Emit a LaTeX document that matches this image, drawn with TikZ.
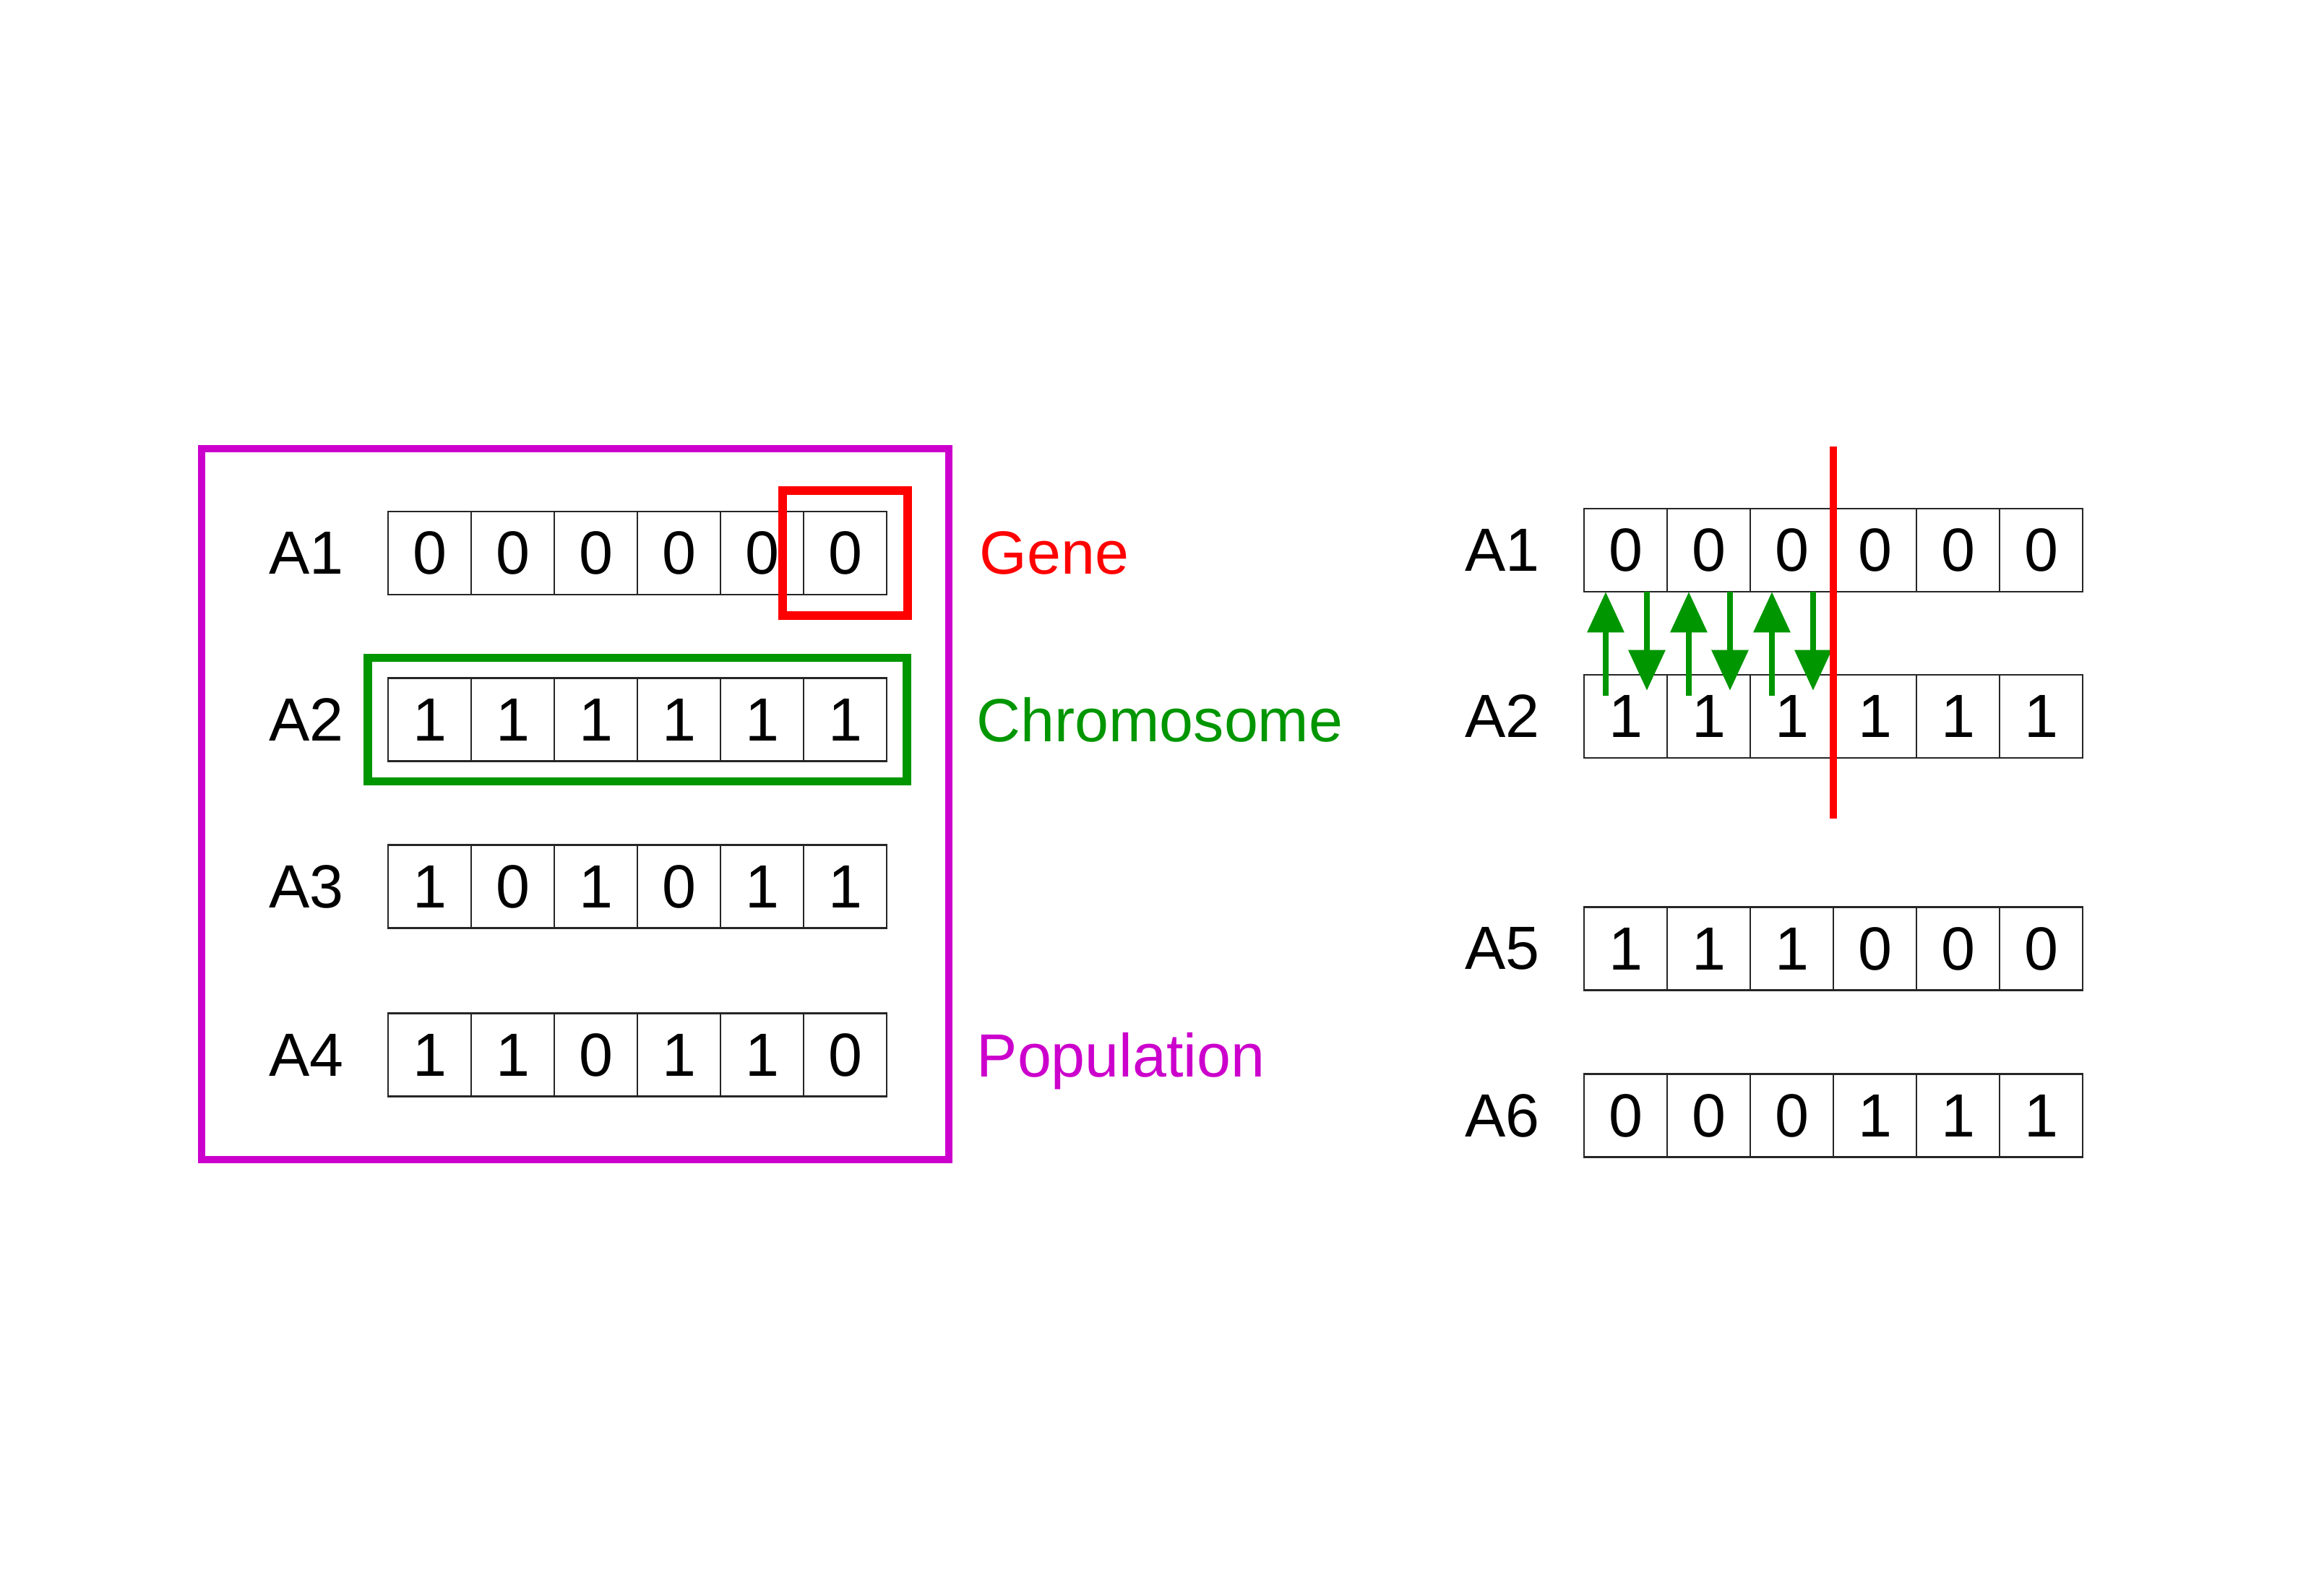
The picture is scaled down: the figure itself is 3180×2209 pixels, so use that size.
\documentclass[tikz,border=0pt]{standalone}
\usepackage{fontspec}
\setmainfont{Liberation Sans}
\usetikzlibrary{arrows.meta,calc,fit}
\definecolor{gred}{RGB}{255,0,0}
\definecolor{ggreen}{RGB}{0,150,0}
\definecolor{gmag}{RGB}{204,0,204}
\tikzset{
  txt/.style={font=\fontsize{24}{28}\selectfont},
  cell/.style={txt,draw=black!85,line width=0.8pt,minimum width=1.15cm,minimum height=1.15cm,inner sep=0pt,outer sep=0pt},
  rowlab/.style={txt,inner sep=0pt,anchor=east},
  genebox/.style={draw=gred,line width=3.3pt,inner sep=0.29cm},
  chrombox/.style={draw=ggreen,line width=3.3pt,inner sep=0.28cm},
  popbox/.style={draw=gmag,line width=3pt,inner sep=0pt},
  garrow/.style={draw=ggreen,line width=2.5pt,-{Triangle[length=16pt,width=14pt]}},
  cutline/.style={draw=gred,line width=2.7pt},
}
\newcommand\chromrow[5]{%
  \node[rowlab] (#1-l) at (#3-61,#4) {#2};
  \foreach \b [count=\i] in {#5} {
    \node[cell] (#1-\i) at ({#3+57.5+115*(\i-1)},#4) {\b};
  }%
}
\begin{document}
\begin{tikzpicture}[x=0.01cm,y=-0.01cm]
\useasboundingbox (0,0) rectangle (3180,2209);
% left: population
\chromrow{la1}{A1}{537}{765.5}{0,0,0,0,0,0}
\chromrow{la2}{A2}{537}{996}{1,1,1,1,1,1}
\chromrow{la3}{A3}{537}{1227}{1,0,1,0,1,1}
\chromrow{la4}{A4}{537}{1460}{1,1,0,1,1,0}
\node[genebox,fit=(la1-6)] (gene) {};
\node[chrombox,fit=(la2-1)(la2-6)] (chrom) {};
\node[popbox,fit={(279,621) (1313,1605)}] (pop) {};
\node[txt,text=gred,anchor=base west,inner sep=0pt] (genelab) at (1355,794) {Gene};
\node[txt,text=ggreen,anchor=base west,inner sep=0pt] (chromlab) at (1351,1026) {Chromosome};
\node[txt,text=gmag,anchor=base west,inner sep=0pt] (poplab) at (1351,1490) {Population};
% right: crossover
\chromrow{ra1}{A1}{2192}{761.5}{0,0,0,0,0,0}
\chromrow{ra2}{A2}{2192}{991.5}{1,1,1,1,1,1}
\chromrow{ra5}{A5}{2192}{1313}{1,1,1,0,0,0}
\chromrow{ra6}{A6}{2192}{1544}{0,0,0,1,1,1}
\foreach \i in {1,2,3} {
  \draw[garrow] ($(ra2-\i.north west)+(30,29)$) -- ($(ra1-\i.south west)+(30,0)$);
  \draw[garrow] ($(ra1-\i.south west)+(87,0)$) -- ($(ra2-\i.north west)+(87,22)$);
}
\draw[cutline] ($(ra1-3.north east)+(0,-86)$) -- ($(ra2-3.south east)+(0,84)$);
\end{tikzpicture}
\end{document}
